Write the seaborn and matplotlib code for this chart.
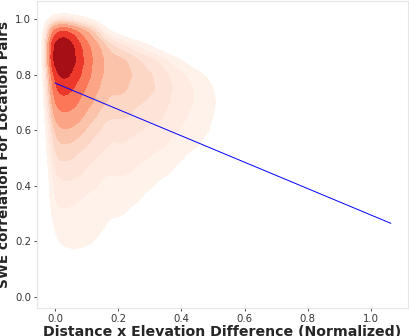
import numpy as np
import pandas as pd
import matplotlib
matplotlib.use("Agg")
import matplotlib.pyplot as plt
import seaborn as sns

# densidad aproximada (por bandas): una lista por columna x,
# valores de arriba (y=1.0) hacia abajo (y=0.15)
x_cols = [0.00, 0.03, 0.06, 0.09, 0.12, 0.15, 0.18, 0.21, 0.24,
          0.27, 0.30, 0.33, 0.36, 0.39, 0.42, 0.45, 0.48, 0.51, 0.54]
y_rows = [1.00, 0.95, 0.90, 0.85, 0.80, 0.75, 0.70, 0.65, 0.60,
          0.55, 0.50, 0.45, 0.40, 0.35, 0.30, 0.25, 0.20, 0.15]
peso = [
    [5, 55, 90, 95, 65, 55, 45, 34, 26, 21, 17, 13, 11, 10, 8, 6, 4.5, 1],
    [6, 65, 100, 100, 80, 60, 48, 36, 27, 21, 17, 14, 11, 10, 8, 6.5, 6, 3.5],
    [5, 50, 70, 75, 62, 50, 42, 34, 26, 20, 16, 13, 11, 9, 7.5, 6.5, 6, 4],
    [3, 36, 47, 50, 47, 40, 34, 27, 21, 17, 14, 12, 10, 8, 7, 6, 5.5, 4],
    [2, 25, 36, 38, 36, 32, 27, 22, 18, 15, 12, 10, 9, 7.5, 6.5, 5.5, 5, 3.5],
    [0, 10, 26, 28, 27, 25, 22, 18, 15, 13, 11, 9, 8, 7, 6, 5, 4.5, 3],
    [0, 4, 18, 24, 24, 22, 19, 16, 13, 11, 10, 8.5, 7.5, 6, 5, 4, 3, 1],
    [0, 2.5, 14, 24, 24, 23, 20, 17, 14, 12, 11, 9, 8, 6.5, 5.5, 3.5, 1, 0],
    [0, 0, 11, 20, 22, 20, 18, 16, 13, 11, 9.5, 8.5, 7, 6, 4, 2, 0, 0],
    [0, 0, 7, 17, 18, 18, 16, 14, 12, 10, 9, 8, 6.5, 5, 3, 0, 0, 0],
    [0, 0, 5, 14, 17, 17, 16, 13, 11, 9.5, 8.5, 7, 5.5, 3, 0, 0, 0, 0],
    [0, 0, 2.5, 12, 15, 16, 14, 12.5, 11, 9, 8, 6, 4, 1.2, 0, 0, 0, 0],
    [0, 0, 0, 8.5, 12, 12.5, 12, 11, 9.5, 8.5, 7, 5.5, 3, 0, 0, 0, 0, 0],
    [0, 0, 0, 6, 10, 11, 10, 9.5, 8.5, 7, 6, 3.5, 0, 0, 0, 0, 0, 0],
    [0, 0, 0, 3.5, 8.5, 9.5, 9.5, 8.5, 8, 6.5, 4, 1.8, 0, 0, 0, 0, 0, 0],
    [0, 0, 0, 1.2, 6.5, 8, 8, 7, 6.5, 5.5, 3, 0, 0, 0, 0, 0, 0, 0],
    [0, 0, 0, 0, 4.5, 6.5, 6.5, 6, 5.5, 3.5, 1.2, 0, 0, 0, 0, 0, 0, 0],
    [0, 0, 0, 0, 2.5, 4.5, 5, 4.5, 3.5, 2, 0, 0, 0, 0, 0, 0, 0, 0],
    [0, 0, 0, 0, 0.5, 1.5, 2, 1.5, 1, 0.3, 0, 0, 0, 0, 0, 0, 0, 0],
]

# linea de regresion
reg_x = [0.0, 1.063]
reg_y = [0.77, 0.265]

filas = []
for i, xv in enumerate(x_cols):
    for j, yv in enumerate(y_rows):
        if peso[i][j] > 0:
            filas.append((xv, yv, peso[i][j]))
df = pd.DataFrame(filas, columns=["x", "y", "w"])

sns.set_style("white")
plt.rcParams["axes.edgecolor"] = "#e6e6e6"
plt.rcParams["font.family"] = ["DejaVu Sans"]

fig = plt.figure(figsize=(4.1, 3.36), dpi=100)
ax = fig.add_axes([0.09, 0.083, 0.905, 0.914])

sns.kdeplot(data=df, x="x", y="y", weights="w", fill=True, cmap="Reds",
            levels=10, thresh=0.05, bw_method=0.15, gridsize=200, ax=ax)
ax.plot(reg_x, reg_y, color="blue", linewidth=0.7)

ax.set_xlim(-0.057, 1.117)
ax.set_ylim(-0.04, 1.065)
ax.set_xticks([0.0, 0.2, 0.4, 0.6, 0.8, 1.0])
ax.set_yticks([0.0, 0.2, 0.4, 0.6, 0.8, 1.0])
ax.tick_params(axis="both", labelsize=7.3, length=2, width=0.6, color="#333333",
               labelcolor="#333333", pad=2, left=True, bottom=True)
ax.set_xlabel("Distance x Elevation Difference (Normalized)", fontsize=10.2,
              fontweight="bold", labelpad=1)
ax.set_ylabel("SWE correlation For Location Pairs", fontsize=9.8,
              fontweight="bold", labelpad=3)

plt.savefig("out.png", dpi=100)
